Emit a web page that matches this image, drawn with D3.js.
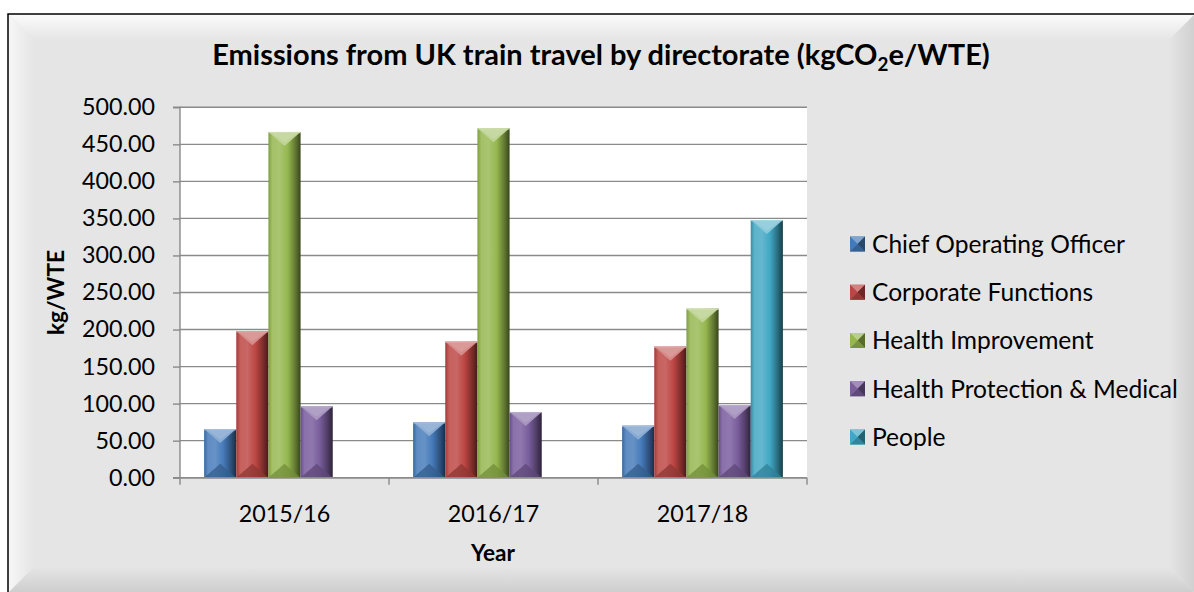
<!DOCTYPE html>
<html><head><meta charset="utf-8">
<script src="https://cdn.jsdelivr.net/npm/d3@7"></script>
<style>html,body{margin:0;padding:0;background:#fff;}svg{display:block;}</style>
</head><body>
<svg id="chart" width="1194" height="592"></svg>
<script>
const categories = ["2015/16", "2016/17", "2017/18"];
const seriesNames = ["Chief Operating Officer", "Corporate Functions", "Health Improvement", "Health Protection & Medical", "People"];
const chiefOperatingOfficer = [65.7, 74.8, 70.2];
const corporateFunctions = [197.8, 183.6, 176.9];
const healthImprovement = [466.7, 471.7, 228.2];
const healthProtectionMedical = [96.5, 88.7, 98.1];
const people = [null, null, 347.9];
const yTicks = [0, 50, 100, 150, 200, 250, 300, 350, 400, 450, 500];
const seriesColors = ["#4f81bd", "#c0504d", "#9bbb59", "#8064a2", "#4bacc6"];
const seriesValues = [chiefOperatingOfficer, corporateFunctions, healthImprovement, healthProtectionMedical, people];

const FONT = "Lato, 'Open Sans', 'Liberation Sans', sans-serif";
const svg = d3.select("#chart");
const defs = svg.append("defs");

// frame
const FX0 = 8, FY0 = 14, FX1 = 1195, FY1 = 593, B = 26;
const bg = "#e5e5e5";
svg.append("rect").attr("x", FX0).attr("y", FY0).attr("width", FX1 - FX0).attr("height", FY1 - FY0).attr("fill", bg);
function lin(id, x1, y1, x2, y2, stops) {
  const g = defs.append("linearGradient").attr("id", id).attr("x1", x1).attr("y1", y1).attr("x2", x2).attr("y2", y2);
  stops.forEach(s => g.append("stop").attr("offset", s[0]).attr("stop-color", s[1]).attr("stop-opacity", s[2] == null ? 1 : s[2]));
}
lin("gTop", 0, 0, 0, 1, [[0, "#fbfbfb"], [1, bg]]);
lin("gLeft", 0, 0, 1, 0, [[0, "#f7f7f7"], [1, bg]]);
lin("gRight", 0, 0, 1, 0, [[0, bg], [1, "#cfcfcf"]]);
lin("gBottom", 0, 0, 0, 1, [[0, bg], [1, "#cdcdcd"]]);
const poly = (pts, fill) => svg.append("polygon").attr("points", pts.map(p => p.join(",")).join(" ")).attr("fill", fill);
poly([[FX0, FY0], [FX1, FY0], [FX1 - B, FY0 + B], [FX0 + B, FY0 + B]], "url(#gTop)");
poly([[FX0, FY0], [FX0 + B, FY0 + B], [FX0 + B, FY1 - B], [FX0, FY1]], "url(#gLeft)");
poly([[FX1, FY0], [FX1, FY1], [FX1 - B, FY1 - B], [FX1 - B, FY0 + B]], "url(#gRight)");
poly([[FX0, FY1], [FX0 + B, FY1 - B], [FX1 - B, FY1 - B], [FX1, FY1]], "url(#gBottom)");
svg.append("rect").attr("x", FX0).attr("y", FY0).attr("width", FX1 - FX0).attr("height", FY1 - FY0)
  .attr("fill", "none").attr("stroke", "#000").attr("stroke-width", 1.5);

// scales
const PL = 180, PR = 807, PT = 107.3, PB = 477.7;
const x = d3.scaleBand().domain(categories).range([PL, PR]).paddingInner(0).paddingOuter(0);
const xs = d3.scaleBand().domain(seriesNames).range([0, x.bandwidth()]).paddingInner(0).paddingOuter(0.75);
const y = d3.scaleLinear().domain([0, 500]).range([PB, PT]);

// plot area
svg.append("rect").attr("x", PL).attr("y", PT).attr("width", PR - PL).attr("height", PB - PT).attr("fill", "#fff");

// gridlines
svg.append("g").selectAll("line").data(yTicks).join("line")
  .attr("x1", PL).attr("x2", PR).attr("y1", d => y(d)).attr("y2", d => y(d))
  .attr("stroke", "#8a8a8a").attr("stroke-width", 1.4);

// y axis
const yAxis = d3.axisLeft(y).tickValues(yTicks).tickSize(7).tickPadding(18).tickFormat(d3.format(".2f"));
const gy = svg.append("g").attr("transform", `translate(${PL},0)`).call(yAxis);
gy.select(".domain").attr("stroke", "#8a8a8a").attr("stroke-width", 1.4).attr("d", `M-7,${PT}H0V${PB}H-7`);
gy.selectAll(".tick line").attr("stroke", "#8a8a8a").attr("stroke-width", 1.4);
gy.selectAll(".tick text").attr("font-family", FONT).attr("fill", "#000").attr("font-size", 24);

// bars with bevel
function shade(c, k) { const h = d3.hsl(c); h.l = Math.max(0, Math.min(1, h.l * k)); return h.formatHex(); }
seriesColors.forEach((c, i) => {
  lin("bar" + i, 0, 0, 1, 0, [[0, shade(c, 0.8)], [0.12, shade(c, 1.08)], [0.35, shade(c, 1.12)], [0.6, shade(c, 0.95)], [0.85, shade(c, 0.6)], [1, shade(c, 0.35)]]);
});
const barG = svg.append("g");
seriesNames.forEach((name, si) => {
  const vals = seriesValues[si];
  categories.forEach((cat, ci) => {
    const v = vals[ci];
    if (v == null) return;
    const x0 = x(cat) + xs(name), w = xs.bandwidth(), x1 = x0 + w;
    const yt = y(v), yb = y(0);
    const th = Math.min(14, (yb - yt) / 2);
    barG.append("rect").attr("x", x0).attr("y", yt).attr("width", w).attr("height", yb - yt).attr("fill", `url(#bar${si})`);
    barG.append("polygon").attr("points", `${x0},${yt} ${x1},${yt} ${x0 + w / 2},${yt + th}`).attr("fill", shade(seriesColors[si], 1.3));
    barG.append("polygon").attr("points", `${x0 + 1.5},${yt} ${x1 - 1.5},${yt} ${x0 + w / 2},${yt + th * 0.75}`).attr("fill", shade(seriesColors[si], 1.42)).attr("opacity", 0.6);
    barG.append("polygon").attr("points", `${x0},${yb} ${x1},${yb} ${x0 + w / 2},${yb - th}`).attr("fill", shade(seriesColors[si], 0.72)).attr("opacity", 0.75);
    barG.append("rect").attr("x", x0).attr("y", yt).attr("width", w).attr("height", 1.2).attr("fill", shade(seriesColors[si], 1.45)).attr("opacity", 0.8);
  });
});

// x axis
const xAxis = d3.axisBottom(x).tickSize(0).tickPadding(28);
const gx = svg.append("g").attr("transform", `translate(0,${PB})`).call(xAxis);
gx.select(".domain").attr("stroke", "#8a8a8a").attr("stroke-width", 1.4).attr("d", `M${PL},0H${PR}`);
gx.selectAll(".tick text").attr("font-family", FONT).attr("fill", "#000").attr("font-size", 24);
const bounds = categories.map(c => x(c)).concat([PR]);
gx.append("g").selectAll("line").data(bounds).join("line")
  .attr("x1", d => d).attr("x2", d => d).attr("y1", 0).attr("y2", 7)
  .attr("stroke", "#8a8a8a").attr("stroke-width", 1.4);

// fit helper
function fitWidth(sel, target) {
  const n = sel.node();
  const fs = parseFloat(sel.attr("font-size"));
  const w = n.getComputedTextLength();
  sel.attr("font-size", fs * target / w);
  return fs * target / w;
}
// tick font fit
{
  const t500 = gy.selectAll(".tick text").filter(d => d === 500);
  const fs = fitWidth(t500, 73);
  gy.selectAll(".tick text").attr("font-size", fs);
  gx.selectAll(".tick text").attr("font-size", fs);
}

// title
const title = svg.append("text").attr("x", 601).attr("y", 65).attr("text-anchor", "middle")
  .attr("font-family", FONT).attr("font-weight", "bold").attr("font-size", 28).attr("fill", "#000");
title.append("tspan").text("Emissions from UK train travel by directorate (kgCO");
title.append("tspan").attr("font-size", "0.65em").attr("dy", 6).text("2");
title.append("tspan").attr("dy", -6).text("e/WTE)");
fitWidth(title, 778);

// y title
const yt = svg.append("text").attr("transform", "translate(64,292.5) rotate(-90)").attr("text-anchor", "middle")
  .attr("font-family", FONT).attr("font-weight", "bold").attr("font-size", 22).attr("fill", "#000").text("kg/WTE");
const yfs = fitWidth(yt, 85);
svg.append("text").attr("x", 493).attr("y", 561).attr("text-anchor", "middle")
  .attr("font-family", FONT).attr("font-weight", "bold").attr("font-size", yfs).attr("fill", "#000").text("Year");

// legend
const legY = d3.scalePoint().domain(seriesNames).range([244, 437]);
const leg = svg.append("g");
const legTexts = [];
seriesNames.forEach((name, i) => {
  const cy = legY(name);
  const s = 15, lx = 850, ly = cy - s / 2;
  const c = seriesColors[i];
  leg.append("rect").attr("x", lx).attr("y", ly).attr("width", s).attr("height", s).attr("fill", c);
  leg.append("polygon").attr("points", `${lx},${ly} ${lx + s},${ly} ${lx + s / 2},${ly + s / 2}`).attr("fill", shade(c, 1.25));
  leg.append("polygon").attr("points", `${lx + s},${ly} ${lx + s},${ly + s} ${lx + s / 2},${ly + s / 2}`).attr("fill", shade(c, 0.55));
  leg.append("polygon").attr("points", `${lx},${ly + s} ${lx + s},${ly + s} ${lx + s / 2},${ly + s / 2}`).attr("fill", shade(c, 0.75));
  leg.append("polygon").attr("points", `${lx},${ly} ${lx},${ly + s} ${lx + s / 2},${ly + s / 2}`).attr("fill", shade(c, 0.95));
  const t = leg.append("text").attr("x", 872).attr("y", cy).attr("dy", "0.36em")
    .attr("font-family", FONT).attr("font-size", 22).attr("fill", "#000").text(name);
  legTexts.push(t);
});
const lfs = fitWidth(legTexts[3], 306);
legTexts.forEach(t => t.attr("font-size", lfs));
</script>
</body></html>
